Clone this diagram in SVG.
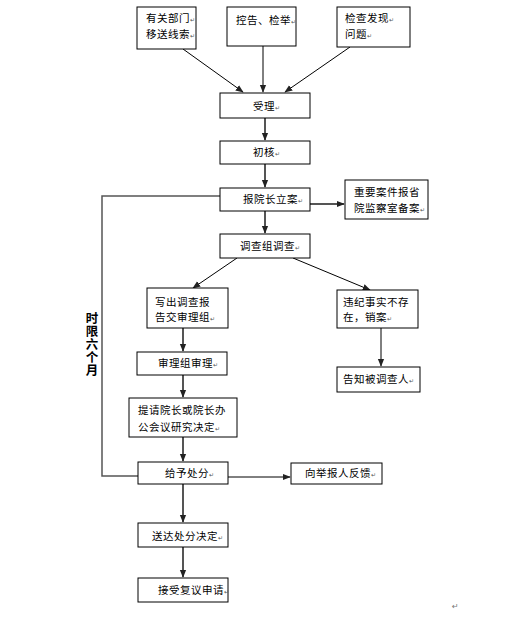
<svg xmlns="http://www.w3.org/2000/svg" width="528" height="621" viewBox="0 0 528 621">
<defs>
<style>
.b{fill:#fff;stroke:#000;stroke-width:1}
.t{font-family:"Noto Sans CJK SC","Noto Sans CJK JP",sans-serif;font-size:10.5px;fill:#000;letter-spacing:0.5px}
.m{font-size:6px;fill:#555;letter-spacing:0}
.g{stroke:#555;stroke-width:2;fill:none}
.k{stroke:#000;stroke-width:1;fill:none}
.v{font-family:"Noto Sans CJK SC","Noto Sans CJK JP",sans-serif;font-size:12.5px;font-weight:bold;fill:#000;writing-mode:vertical-rl;letter-spacing:0.5px}
</style>
<marker id="a2" viewBox="0 0 10 10" refX="9" refY="5" markerWidth="8" markerHeight="8" orient="auto" markerUnits="userSpaceOnUse">
<path d="M0,1L10,5L0,9z" fill="#222"/>
</marker>
</defs>
<rect width="528" height="621" fill="#fff"/>
<g id="connectors">
<line class="k" x1="183" y1="49" x2="243" y2="92" marker-end="url(#a2)"/>
<line class="k" x1="263" y1="46" x2="263" y2="92" marker-end="url(#a2)"/>
<line class="k" x1="350" y1="47" x2="285" y2="92" marker-end="url(#a2)"/>
<line class="g" x1="265" y1="118" x2="265" y2="140" marker-end="url(#a2)"/>
<line class="g" x1="265" y1="164" x2="265" y2="187" marker-end="url(#a2)"/>
<line class="g" x1="310" y1="204" x2="344" y2="204" marker-end="url(#a2)"/>
<line class="g" x1="265" y1="211" x2="265" y2="233" marker-end="url(#a2)"/>
<line class="k" x1="237" y1="258" x2="193" y2="288" marker-end="url(#a2)"/>
<line class="k" x1="293" y1="258" x2="370" y2="290" marker-end="url(#a2)"/>
<line class="g" x1="183" y1="328" x2="183" y2="351" marker-end="url(#a2)"/>
<line class="k" x1="381" y1="328" x2="381" y2="366" marker-end="url(#a2)"/>
<line class="g" x1="183" y1="375" x2="183" y2="397" marker-end="url(#a2)"/>
<line class="g" x1="183" y1="437" x2="183" y2="461" marker-end="url(#a2)"/>
<line class="k" x1="228" y1="477" x2="290" y2="477" marker-end="url(#a2)"/>
<line class="g" x1="183" y1="484" x2="183" y2="522" marker-end="url(#a2)"/>
<line class="g" x1="183" y1="547" x2="183" y2="577" marker-end="url(#a2)"/>
<polyline points="220,196 102,196 102,476 138,476" fill="none" stroke="#555" stroke-width="1.5"/>
</g>
<g id="n1"><rect class="b" x="137" y="7" width="59" height="42"/><text class="t" x="146" y="22">有关部门<tspan class="m">↵</tspan></text><text class="t" x="146" y="38">移送线索<tspan class="m">↵</tspan></text></g>
<g id="n2"><rect class="b" x="227" y="7" width="69" height="39"/><text class="t" x="236" y="24">控告、检举<tspan class="m">↵</tspan></text></g>
<g id="n3"><rect class="b" x="337" y="7" width="73" height="40"/><text class="t" x="345" y="22">检查发现<tspan class="m">↵</tspan></text><text class="t" x="345" y="38">问题<tspan class="m">↵</tspan></text></g>
<g id="n4"><rect class="b" x="220" y="93" width="90" height="25"/><text class="t" x="253" y="110">受理<tspan class="m">↵</tspan></text></g>
<g id="n5"><rect class="b" x="220" y="141" width="90" height="23"/><text class="t" x="253" y="156">初核<tspan class="m">↵</tspan></text></g>
<g id="n6"><rect class="b" x="220" y="188" width="90" height="23"/><text class="t" x="243" y="203">报院长立案<tspan class="m">↵</tspan></text></g>
<g id="n7"><rect class="b" x="345" y="180" width="83" height="39"/><text class="t" x="354" y="196" letter-spacing="1.5">重要案件报省</text><text class="t" x="354" y="212">院监察室备案<tspan class="m">↵</tspan></text></g>
<g id="n8"><rect class="b" x="220" y="234" width="90" height="24"/><text class="t" x="240" y="250">调查组调查<tspan class="m">↵</tspan></text></g>
<g id="n9"><rect class="b" x="147" y="288" width="81" height="40"/><text class="t" x="155" y="306" letter-spacing="1.5">写出调查报</text><text class="t" x="155" y="321" letter-spacing="1">告交审理组<tspan class="m">↵</tspan></text></g>
<g id="n10"><rect class="b" x="337" y="290" width="81" height="38"/><text class="t" x="343" y="306">违纪事实不存</text><text class="t" x="343" y="321">在，销案<tspan class="m">↵</tspan></text></g>
<g id="n11"><rect class="b" x="137" y="352" width="90" height="23"/><text class="t" x="158" y="367" letter-spacing="1">审理组审理<tspan class="m">↵</tspan></text></g>
<g id="n12"><rect class="b" x="337" y="367" width="83" height="25"/><text class="t" x="343" y="383">告知被调查人<tspan class="m">↵</tspan></text></g>
<g id="n13"><rect class="b" x="129" y="398" width="108" height="39"/><text class="t" x="138" y="414">提请院长或院长办</text><text class="t" x="138" y="431">公会议研究决定<tspan class="m">↵</tspan></text></g>
<g id="n14"><rect class="b" x="138" y="462" width="90" height="22"/><text class="t" x="165" y="477">给予处分<tspan class="m">↵</tspan></text></g>
<g id="n15"><rect class="b" x="291" y="463" width="91" height="21"/><text class="t" x="305" y="477">向举报人反馈<tspan class="m">↵</tspan></text></g>
<g id="n16"><rect class="b" x="138" y="523" width="90" height="24"/><text class="t" x="152" y="540">送达处分决定<tspan class="m">↵</tspan></text></g>
<g id="n17"><rect class="b" x="138" y="578" width="90" height="24"/><text class="t" x="158" y="594">接受复议申请<tspan class="m">↵</tspan></text></g>
<g id="label"><text class="v" x="92" y="312">时限六个月</text></g>
<text x="452" y="609" font-family="'DejaVu Sans',sans-serif" font-size="8" fill="#777">↵</text>
</svg>
